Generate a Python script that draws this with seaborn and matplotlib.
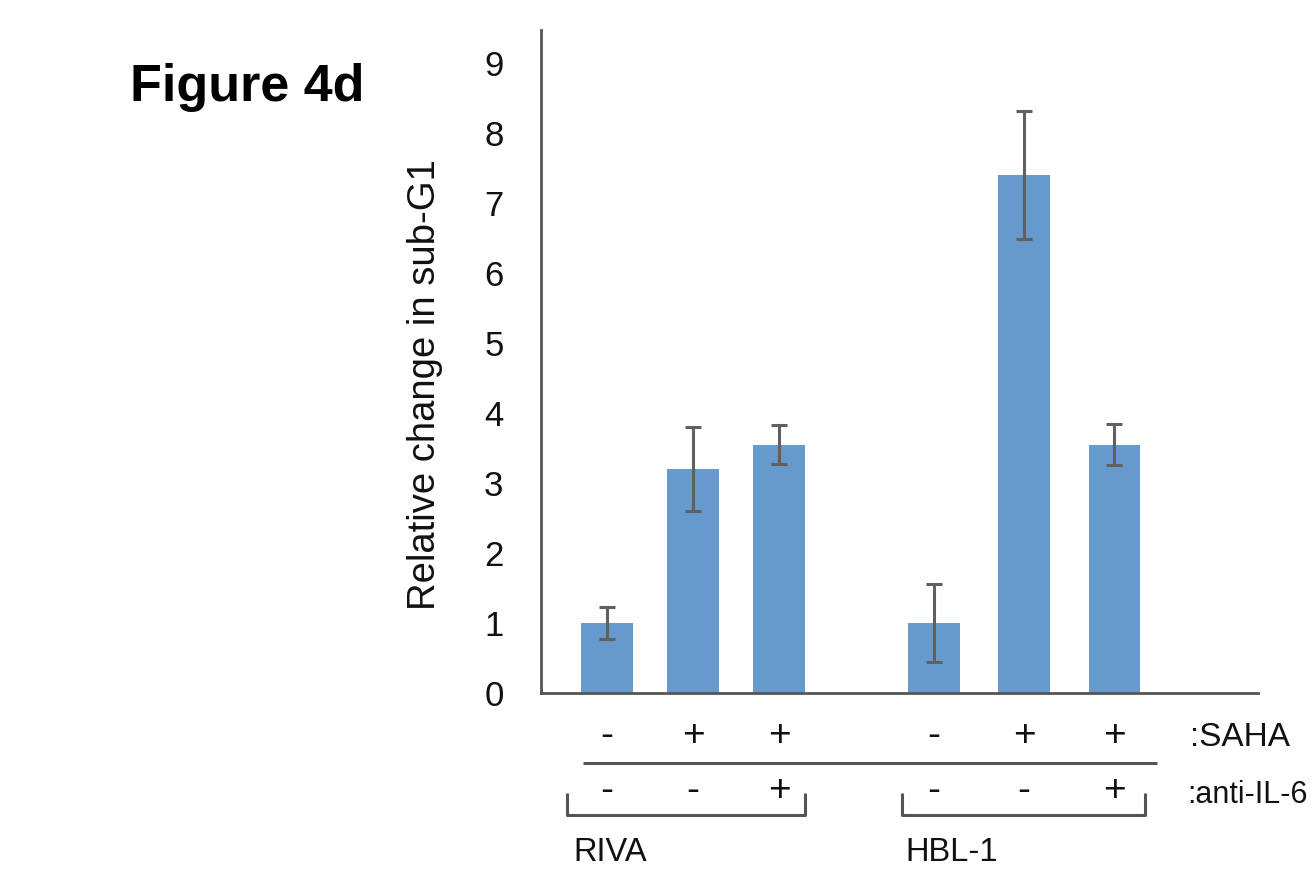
import matplotlib
matplotlib.use("Agg")
import matplotlib.pyplot as plt
import seaborn as sns
import pandas as pd
from matplotlib.lines import Line2D
import matplotlib.transforms as mtransforms

# ---- data ----
cell_lines = ["RIVA", "HBL-1"]
conditions = ["ctrl", "SAHA", "SAHA+anti-IL-6"]
riva_values = [1.0, 3.2, 3.55]
riva_errors = [0.23, 0.6, 0.28]
hbl_values = [1.0, 7.4, 3.55]
hbl_errors = [0.56, 0.92, 0.29]
saha_signs = ["-", "+", "+", "-", "+", "+"]
anti_il6_signs = ["-", "-", "+", "-", "-", "+"]
y_ticks = [0, 1, 2, 3, 4, 5, 6, 7, 8, 9]
y_label = "Relative change in sub-G1"
title = "Figure 4d"

# ---- layout (bar slots) ----
x_pos = [0.0, 1.0, 2.0, 3.8, 4.85, 5.9]

values = riva_values + hbl_values
errors = riva_errors + hbl_errors
df = pd.DataFrame({
    "pos": x_pos,
    "value": values,
    "line": [cell_lines[0]] * 3 + [cell_lines[1]] * 3,
    "cond": conditions * 2,
})

sns.set_theme(style="white")
plt.rcParams["font.family"] = ["Liberation Sans", "DejaVu Sans"]

W, H = 1313, 872
fig = plt.figure(figsize=(W / 100, H / 100), dpi=100)
ax_l, ax_r, ax_b, ax_t = 541, 1258, 693, 30
ax = fig.add_axes([ax_l / W, 1 - ax_b / H, (ax_r - ax_l) / W, (ax_b - ax_t) / H])

sns.barplot(data=df, x="pos", y="value", native_scale=True, width=0.6,
            color="#6699CC", saturation=1, errorbar=None, ax=ax,
            edgecolor="none", linewidth=0)
ax.errorbar(x_pos, values, yerr=errors, fmt="none", ecolor="#606060",
            elinewidth=2.2, capsize=5.6, capthick=2.2, zorder=3)

ax.set_xlim((ax_l - 607) / 86, (ax_r - 607) / 86)
ax.set_ylim(0, (ax_b - ax_t) / 70)
ax.set_yticks(y_ticks)
ax.set_yticklabels([str(t) for t in y_ticks], fontsize=25, color="#111111")
ax.tick_params(axis="y", length=0, pad=27)
ax.set_xticks([])
ax.set_xlabel("")
ax.set_ylabel(y_label, fontsize=27.5, color="#111111")
ax.yaxis.set_label_coords(-0.137, 0.465)
for s in ["top", "right"]:
    ax.spines[s].set_visible(False)
for s in ["left", "bottom"]:
    ax.spines[s].set_color("#555555")
    ax.spines[s].set_linewidth(2.0)

# title
fig.text(130 / W, 1 - 101 / H, title, fontsize=37.5, fontweight="bold",
         ha="left", va="baseline", color="black")

# sign rows below the axis
trans = mtransforms.blended_transform_factory(ax.transData, fig.transFigure)
for xp, s in zip(x_pos, saha_signs):
    ax.text(xp, 1 - 736 / H, s, transform=trans, ha="center", va="center",
            fontsize=28, color="#111111", clip_on=False)
for xp, s in zip(x_pos, anti_il6_signs):
    ax.text(xp, 1 - 791 / H, s, transform=trans, ha="center", va="center",
            fontsize=28, color="#111111", clip_on=False)

lc = "#555555"
lw = 2.2
def fig_line(xs, ys):
    fig.add_artist(Line2D(xs, ys, transform=trans, color=lc, linewidth=lw,
                          solid_capstyle="butt"))

# line under the SAHA row
fig_line([x_pos[0] - 0.28, x_pos[5] + 0.5], [1 - 763 / H, 1 - 763 / H])
# brackets
y_top, y_bot = 1 - 793 / H, 1 - 815 / H
for a, b in [(x_pos[0] - 0.47, x_pos[2] + 0.3), (x_pos[3] - 0.37, x_pos[5] + 0.36)]:
    fig_line([a, a, b, b], [y_top, y_bot, y_bot, y_top])

# group labels
fig.text(573 / W, 1 - 852 / H, cell_lines[0], fontsize=23.5, ha="left", va="center", color="#111111")
fig.text(905 / W, 1 - 852 / H, cell_lines[1], fontsize=23.5, ha="left", va="center", color="#111111")
fig.text(1190 / W, 1 - 737 / H, ":SAHA", fontsize=24, ha="left", va="center", color="#111111")
fig.text(1187 / W, 1 - 795 / H, ":anti-IL-6", fontsize=22, ha="left", va="center", color="#111111")

fig.savefig("out.png", dpi=100)
